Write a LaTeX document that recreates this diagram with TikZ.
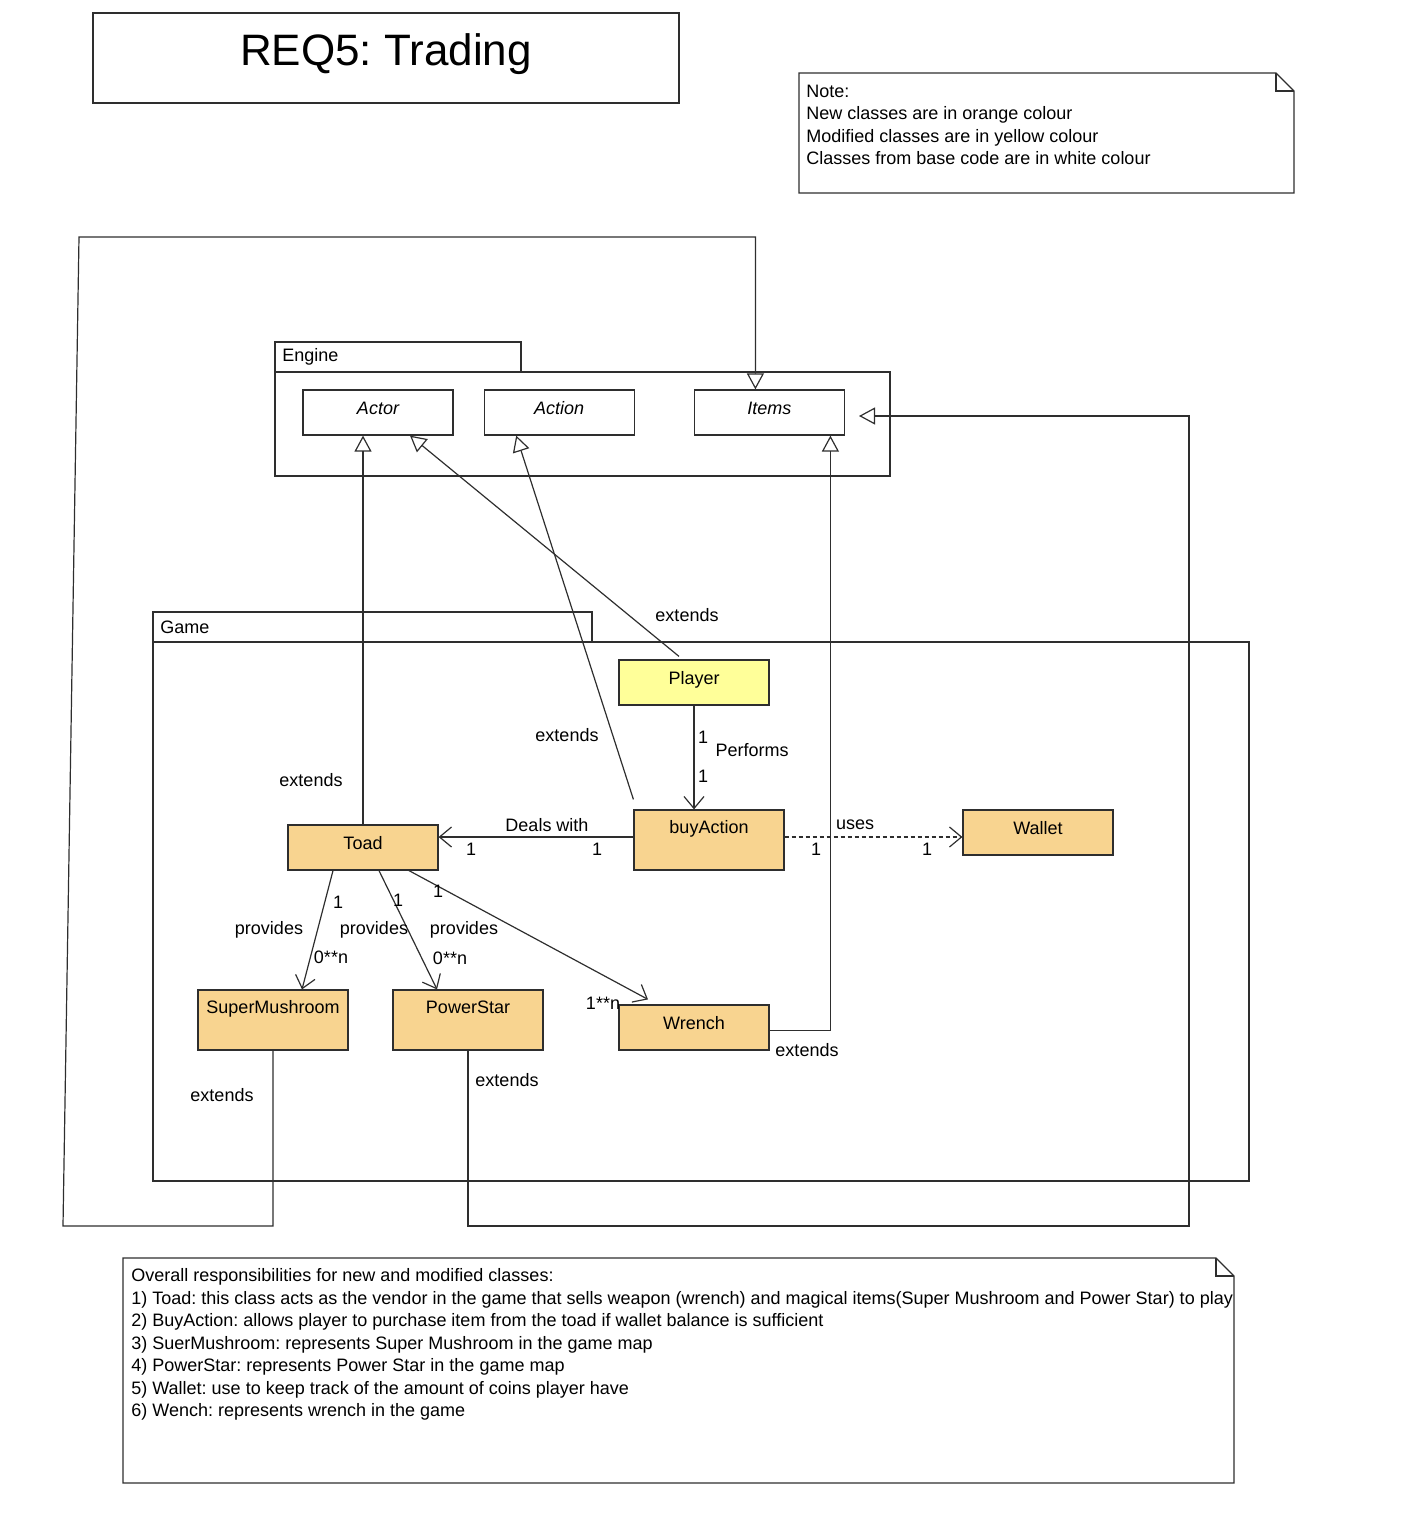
\documentclass[tikz,border=0pt]{standalone}
\usepackage{fontspec}
\setmainfont{Liberation Sans}
\usetikzlibrary{arrows.meta,positioning}
\frenchspacing

\definecolor{neworange}{HTML}{F8D490}
\definecolor{modyellow}{HTML}{FFFF99}
\definecolor{umlline}{HTML}{2E2E2E}

\tikzset{
  uml/.style={font=\fontsize{9}{11.25}\selectfont, text=black},
  classbox/.style={draw=umlline, line width=0.6pt, minimum width=75pt,
    minimum height=22.5pt, inner sep=0pt, uml, text height=6.5pt, text depth=4.1pt},
  baseclass/.style={classbox, font=\fontsize{9}{11.25}\selectfont\itshape},
  newclass/.style={classbox, fill=neworange},
  modclass/.style={classbox, fill=modyellow},
  tallclass/.style={newclass, minimum height=30pt, text height=6.5pt, text depth=13pt},
  lbl/.style={uml, inner sep=0pt},
  conn/.style={draw=umlline, line width=0.6pt},
  extends/.style={conn, -{Triangle[open, length=8pt, width=8.5pt]}},
  assoc/.style={conn, -{Straight Barb[length=6pt, width=10pt]}},
  depends/.style={assoc, dash pattern=on 2pt off 1.5pt},
}

\begin{document}
\begin{tikzpicture}[x=0.5pt, y=-0.5pt]
\useasboundingbox (0,0) rectangle (1422,1518);

% ===== Title and note =====
\node[draw=umlline, line width=0.6pt, minimum width=293pt, minimum height=45pt,
  font=\fontsize{22}{26}\selectfont, text height=16pt, text depth=8.5pt] (title) at (386,58) {REQ5: Trading};

\draw[conn] (799,73) -- (1276,73) -- (1294,91) -- (1294,193) -- (799,193) -- cycle;
\draw[conn] (1276,73) -- (1276,91) -- (1294,91);
\node[lbl, anchor=west, align=left] (legend) at (806,125)
  {Note:\\New classes are in orange colour\\Modified classes are in yellow colour\\Classes from base code are in white colour};

% ===== Packages =====
\draw[conn] (275,342) rectangle (521,372);
\draw[conn] (275,372) rectangle (890,476);
\node[lbl, anchor=west] (enginelbl) at (282,357) {Engine};

\draw[conn] (153,612) rectangle (592,642);
\draw[conn] (153,642) rectangle (1249,1181);
\node[lbl, anchor=west] (gamelbl) at (160,627) {Game};

% ===== Classes =====
\node[baseclass] (actor) at (378,412.5) {Actor};
\node[baseclass, right=15pt of actor] (action) {Action};
\node[baseclass, right=29.5pt of action] (items) {Items};

\node[modclass] (player) at (694,682.5) {Player};
\node[tallclass] (buyaction) at (709,840) {buyAction};
\node[newclass] (wallet) at (1038,832.5) {Wallet};
\node[newclass] (toad) at (363,847.5) {Toad};
\node[tallclass] (supermushroom) at (273,1020) {SuperMushroom};
\node[tallclass] (powerstar) at (468,1020) {PowerStar};
\node[newclass] (wrench) at (694,1027.5) {Wrench};

% ===== Generalisations =====
\draw[extends] (toad.north) -- (toad.north |- actor.south);
\draw[extends] ([shift={(-7.5pt,1.5pt)}]player.north) -- ([xshift=16pt]actor.south);
\draw[extends] ([yshift=5pt]buyaction.north west) -- ([xshift=-21.5pt]action.south);
\draw[extends] ([yshift=-1.5pt]wrench.east) -| ([xshift=30.5pt]items.south);

\coordinate (smleft) at (63,1226);
\coordinate (smtop) at (79,237);
\draw[extends] (supermushroom.south) |- (smleft) -- (smtop) -| ([xshift=-7pt]items.north);

\coordinate (psright) at (1189,1226);
\coordinate (psup) at (1189,416);
\draw[extends] (powerstar.south) |- (psright) -- (psup) -- ([shift={(7pt,-1.75pt)}]items.east);

\node[lbl] (ext1) at (311,780) {extends};
\node[lbl] (ext2) at (687,615) {extends};
\node[lbl] (ext3) at (567,735) {extends};
\node[lbl] (ext4) at (807,1050) {extends};
\node[lbl] (ext5) at (222,1095) {extends};
\node[lbl] (ext6) at (507,1080) {extends};

% ===== Associations =====
\draw[assoc] (player.south) -- (player.south |- buyaction.north);
\node[lbl] (perf1) at (703,737) {1};
\node[lbl] (perf) at (752,750) {Performs};
\node[lbl] (perf2) at (703,776) {1};

\draw[assoc] ([yshift=1.5pt]buyaction.west) -- ([yshift=1.5pt]buyaction.west -| toad.east);
\node[lbl] (deal) at (547,825) {Deals with};
\node[lbl] (deal1) at (471,849) {1};
\node[lbl] (deal2) at (597,849) {1};

\draw[depends] ([yshift=1.5pt]buyaction.east) -- ([yshift=1.5pt]buyaction.east -| wallet.west);
\node[lbl] (uses) at (855,825) {uses};
\node[lbl] (uses1) at (816,849) {1};
\node[lbl] (uses2) at (927,849) {1};

\draw[assoc] ([xshift=-15pt]toad.south) -- ([xshift=14.5pt]supermushroom.north);
\node[lbl] (sm1) at (338,902) {1};
\node[lbl] (smprov) at (269,930) {provides};
\node[lbl] (smn) at (331,957) {0**n};

\draw[assoc] ([xshift=8pt]toad.south) -- ([xshift=-15.5pt]powerstar.north);
\node[lbl] (ps1) at (398,900) {1};
\node[lbl] (psprov) at (374,930) {provides};
\node[lbl] (psn) at (450,958) {0**n};

\draw[assoc] ([xshift=23pt]toad.south) -- ([shift={(-23pt,2.5pt)}]wrench.north);
\node[lbl] (wr1) at (438,891) {1};
\node[lbl] (wrprov) at (464,930) {provides};
\node[lbl] (wrn) at (603,1003) {1**n};

% ===== Responsibilities =====
\draw[conn] (123,1258) -- (1216,1258) -- (1234,1276) -- (1234,1483) -- (123,1483) -- cycle;
\draw[conn] (1216,1258) -- (1216,1276) -- (1234,1276);
\node[lbl, anchor=west, align=left] (duties) at (131,1344.5)
  {Overall responsibilities for new and modified classes:\\
   1) Toad: this class acts as the vendor in the game that sells weapon (wrench) and magical items(Super Mushroom and Power Star) to play\\
   2) BuyAction: allows player to purchase item from the toad if wallet balance is sufficient\\
   3) SuerMushroom: represents Super Mushroom in the game map\\
   4) PowerStar: represents Power Star in the game map\\
   5) Wallet: use to keep track of the amount of coins player have\\
   6) Wench: represents wrench in the game};

\end{tikzpicture}
\end{document}
